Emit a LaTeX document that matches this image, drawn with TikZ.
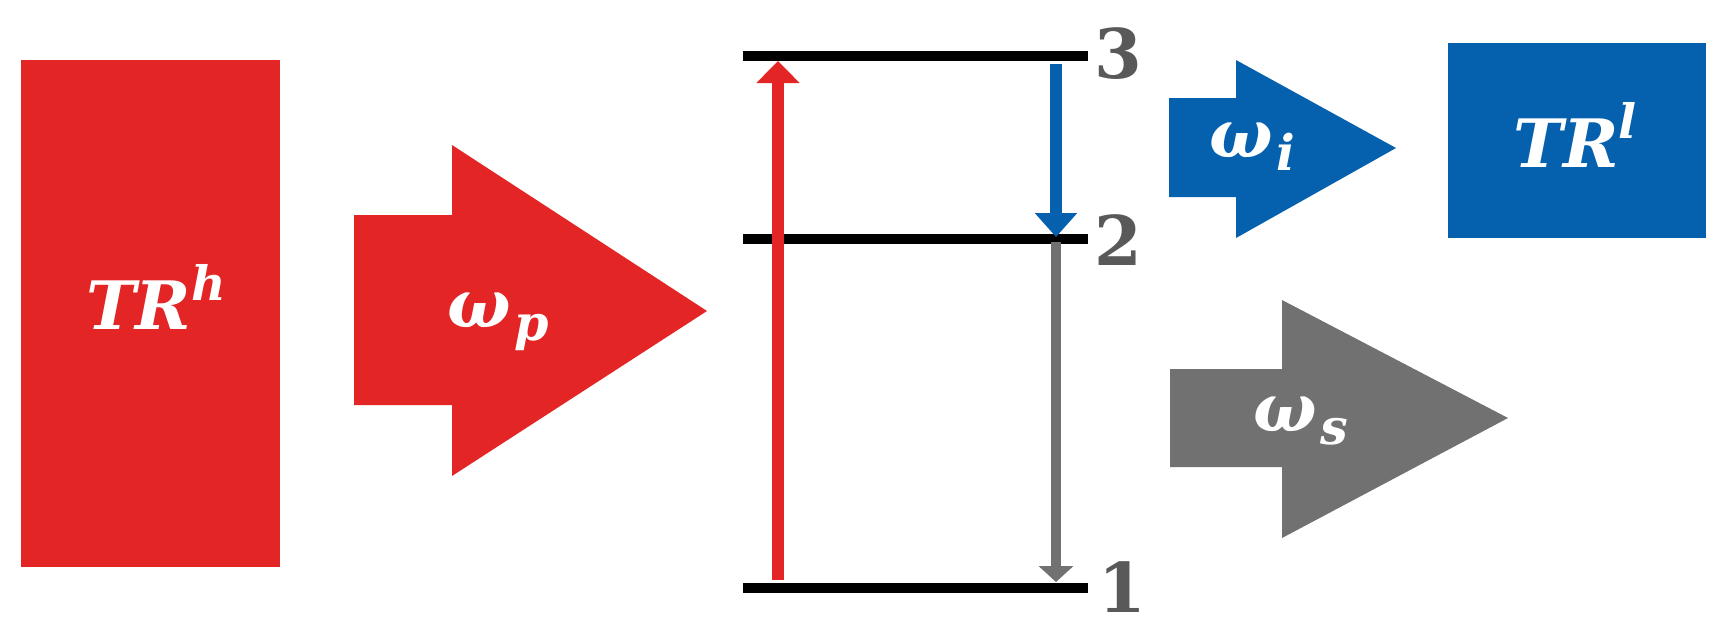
\documentclass[tikz,border=0pt]{standalone}
\usepackage{fontspec}
\usetikzlibrary{arrows.meta}
\newfontfamily\symfont{DejaVu Serif}
\definecolor{pumpred}{HTML}{E32526}
\definecolor{idlerblue}{HTML}{0561AD}
\definecolor{signalgray}{HTML}{717171}
\definecolor{labelgray}{HTML}{595959}
\newcommand{\reservoir}[1]{TR\raisebox{0.42em}{\fontsize{27}{30}\selectfont #1}}
\newcommand{\photon}[1]{ω\kern0.05em\raisebox{-0.2em}{\fontsize{28}{30}\selectfont #1}}

\begin{document}
\begin{tikzpicture}
[x=0.02cm, y=-0.02cm,
 big/.style={font=\symfont\fontsize{38}{44}\selectfont\bfseries\itshape, text=white, anchor=base, inner sep=0pt},
 lvl/.style={font=\symfont\fontsize{39}{44}\selectfont\bfseries, text=labelgray, anchor=base, inner sep=0pt},
 level/.style={line width=0.2cm},
 trans/.style={line width=0.24cm}]
\useasboundingbox (0,0) rectangle (1731,640);

% reservoirs
\fill[pumpred] (21,60) rectangle (280,567);
\fill[idlerblue] (1448,43) rectangle (1706,238);
\node[big] (hot) at (156,329) {\reservoir{h}};
\node[big] (cold) at (1575,167) {\reservoir{l}};

% photon arrows
\fill[pumpred] (354,215) -- (452,215) -- (452,145) -- (707,311) -- (452,476) -- (452,405) -- (354,405) -- cycle;
\fill[idlerblue] (1169,98) -- (1236,98) -- (1236,60) -- (1396,148) -- (1236,238) -- (1236,197) -- (1169,197) -- cycle;
\fill[signalgray] (1170,369) -- (1282,369) -- (1282,300) -- (1508,418) -- (1282,538) -- (1282,467) -- (1170,467) -- cycle;
\node[big] (wp) at (498,327) {\photon{p}};
\node[big] (wi) at (1252,157) {\photon{i}};
\node[big] (ws) at (1301,431) {\photon{s}};

% levels
\coordinate (a3) at (743,56);  \coordinate (b3) at (1088,56);
\coordinate (a2) at (743,239); \coordinate (b2) at (1088,239);
\coordinate (a1) at (743,588); \coordinate (b1) at (1088,588);
\draw[level] (a3) -- (b3);
\draw[level] (a2) -- (b2);
\draw[level] (a1) -- (b1);
\node[lvl] (n3) at (1118,78) {3};
\node[lvl] (n2) at (1118,265) {2};
\node[lvl] (n1) at (1122,612) {1};

% transitions
\coordinate (up0) at (778,580); \coordinate (up1) at (778,61);
\coordinate (id0) at (1056,64); \coordinate (id1) at (1056,237);
\coordinate (sg0) at (1056,242); \coordinate (sg1) at (1056,582);
\draw[trans, pumpred, -{Triangle[width=0.84cm, length=0.44cm]}] (up0) -- (up1);
\draw[trans, idlerblue, -{Triangle[width=0.82cm, length=0.48cm]}] (id0) -- (id1);
\draw[trans, signalgray, line width=0.2cm, -{Triangle[width=0.68cm, length=0.32cm]}] (sg0) -- (sg1);
\end{tikzpicture}
\end{document}
